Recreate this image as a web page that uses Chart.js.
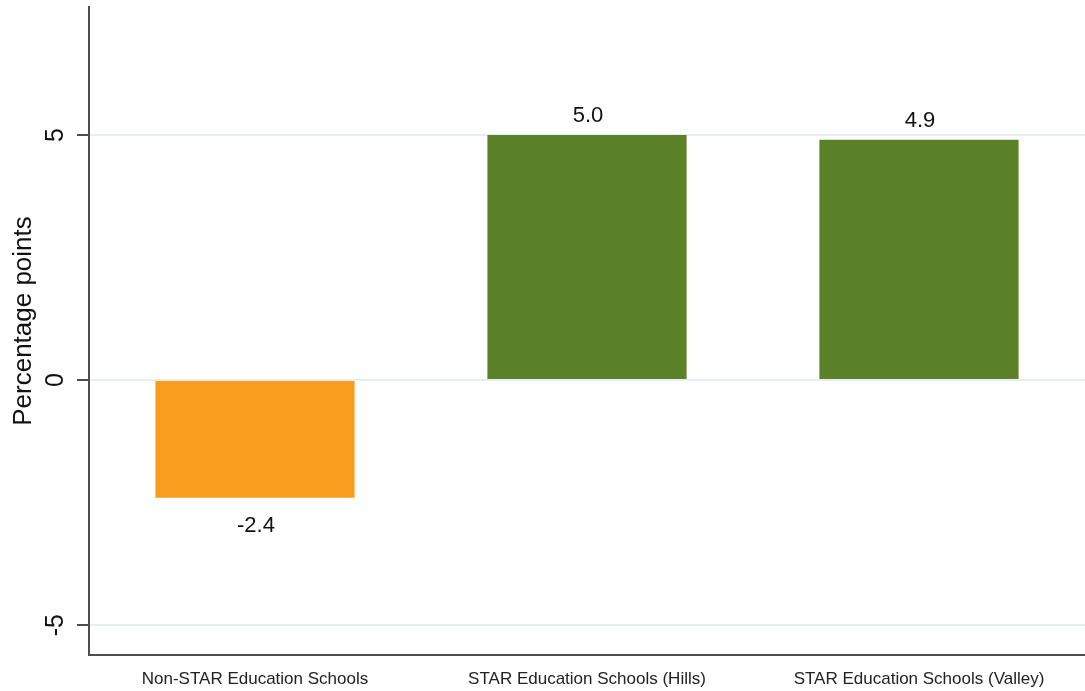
<!DOCTYPE html>
<html>
<head>
<meta charset="utf-8">
<script src="https://cdn.jsdelivr.net/npm/chart.js@4.4.0/dist/chart.umd.min.js"></script>
<style>
  html, body { margin: 0; padding: 0; background: #fff; }
  #wrap { width: 1085px; height: 691px; }
</style>
</head>
<body>
<div id="wrap"><canvas id="chart" width="1085" height="691"></canvas></div>
<script>
// Change by school group, in percentage points
const categories = ["Non-STAR Education Schools", "STAR Education Schools (Hills)", "STAR Education Schools (Valley)"];
const changes = [-2.4, 5.0, 4.9];
const barColors = ["#F99D1E", "#5B8228", "#5B8228"];
const yTicks = [-5, 0, 5];
const yTitle = "Percentage points";

const FONT = "'Liberation Sans', Arial, Helvetica, sans-serif";
const AXIS_COLOR = "#4d4d4d";

// Rotated y labels and the numbers on the bars
const labelsPlugin = {
  id: "labels",
  afterDatasetsDraw(chart) {
    const ctx = chart.ctx;
    const meta = chart.getDatasetMeta(0);
    ctx.save();
    ctx.font = "22px " + FONT;
    ctx.fillStyle = "#111";
    ctx.textAlign = "center";
    ctx.textBaseline = "middle";
    meta.data.forEach((bar, i) => {
      const v = changes[i];
      const y = v >= 0 ? bar.y - 19 : bar.y + 28;
      ctx.fillText(v.toFixed(1), bar.x + 1, y);
    });
    ctx.restore();
  },
  afterDraw(chart) {
    const ctx = chart.ctx;
    const yScale = chart.scales.y;
    ctx.save();
    ctx.fillStyle = "#111";
    ctx.textAlign = "center";
    ctx.textBaseline = "middle";

    ctx.font = "25px " + FONT;
    yTicks.forEach(t => {
      ctx.save();
      ctx.translate(56, yScale.getPixelForValue(t));
      ctx.rotate(-Math.PI / 2);
      ctx.fillText(String(t), 0, 0);
      ctx.restore();
    });

    ctx.font = "26px " + FONT;
    ctx.translate(24, (chart.chartArea.top + chart.chartArea.bottom) / 2 - 10);
    ctx.rotate(-Math.PI / 2);
    ctx.fillText(yTitle, 0, 0);
    ctx.restore();
  }
};

new Chart(document.getElementById("chart"), {
  type: "bar",
  data: {
    labels: categories,
    datasets: [{
      data: changes,
      backgroundColor: barColors,
      borderWidth: 0,
      barPercentage: 0.6,
      categoryPercentage: 1.0
    }]
  },
  options: {
    responsive: false,
    animation: false,
    layout: { padding: { top: 7, right: 0, left: 0, bottom: 0 } },
    plugins: {
      legend: { display: false },
      tooltip: { enabled: false }
    },
    scales: {
      x: {
        grid: { display: false },
        border: { color: AXIS_COLOR, width: 2 },
        ticks: {
          color: "#222",
          font: { family: FONT, size: 17 },
          padding: 6,
          maxRotation: 0,
          autoSkip: false
        },
        afterFit(scale) { scale.height = 36; }
      },
      y: {
        min: -5.61,
        max: 7.61,
        afterBuildTicks(scale) {
          scale.ticks = yTicks.map(v => ({ value: v }));
        },
        grid: {
          color: "#E6EEF1",
          lineWidth: 2,
          drawTicks: true,
          tickLength: 12,
          tickColor: AXIS_COLOR,
          tickWidth: 2
        },
        border: { color: AXIS_COLOR, width: 2 },
        ticks: { display: false },
        afterFit(scale) { scale.width = 89; }
      }
    }
  },
  plugins: [labelsPlugin]
});
</script>
</body>
</html>
